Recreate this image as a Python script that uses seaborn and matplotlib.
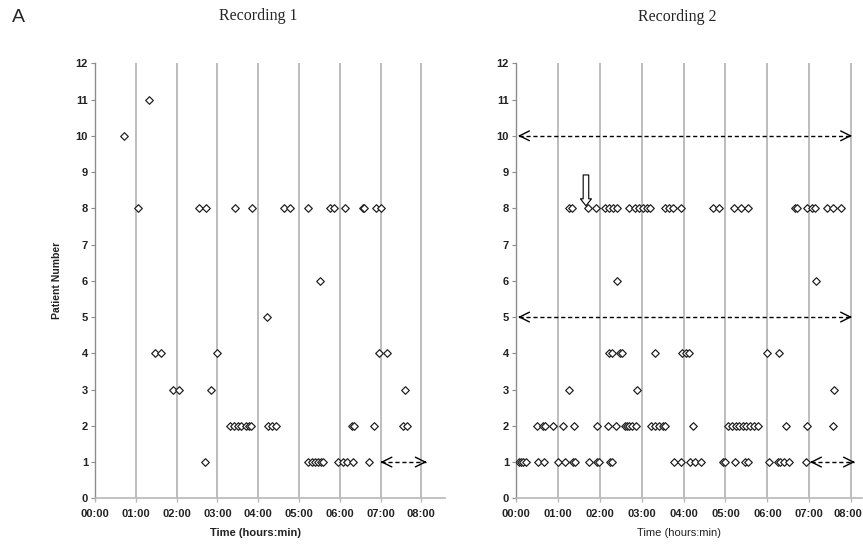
import numpy as np
import pandas as pd
import matplotlib
matplotlib.use("Agg")
import matplotlib.pyplot as plt
import matplotlib.transforms as mtransforms
import seaborn as sns

# ---------------- data (time in decimal hours, per patient) ----------------
rec1_p11 = [1.32]
rec1_p10 = [0.71]
rec1_p8 = [1.05, 2.54, 2.71, 3.43, 3.84, 4.64, 4.78, 5.21, 5.76, 5.86, 6.13,
           6.56, 6.60, 6.90, 7.00]
rec1_p6 = [5.52]
rec1_p5 = [4.22]
rec1_p4 = [1.47, 1.63, 3.00, 6.97, 7.17]
rec1_p3 = [1.92, 2.07, 2.84, 7.60]
rec1_p2 = [3.31, 3.41, 3.50, 3.59, 3.69, 3.78, 3.82, 4.24, 4.33, 4.44,
           6.29, 6.36, 6.85, 7.56, 7.66]
rec1_p1 = [2.69, 5.23, 5.31, 5.39, 5.47, 5.53, 5.60, 5.95, 6.07, 6.18, 6.33, 6.72]

rec2_p8 = [1.27, 1.33, 1.73, 1.91, 2.12, 2.23, 2.32, 2.40, 2.70, 2.84, 2.94,
           3.04, 3.12, 3.20, 3.56, 3.66, 3.75, 3.95, 4.71, 4.85, 5.21, 5.37,
           5.54, 6.66, 6.71, 6.94, 7.06, 7.14, 7.42, 7.57, 7.76]
rec2_p6 = [2.40, 7.16]
rec2_p4 = [2.22, 2.28, 2.48, 2.54, 3.33, 3.97, 4.05, 4.13, 6.00, 6.28]
rec2_p3 = [1.26, 2.90, 7.60]
rec2_p2 = [0.49, 0.65, 0.69, 0.88, 1.13, 1.38, 1.93, 2.19, 2.38, 2.60, 2.66,
           2.70, 2.78, 2.86, 3.22, 3.33, 3.41, 3.52, 3.56, 4.23, 5.07, 5.16,
           5.25, 5.33, 5.42, 5.50, 5.59, 5.68, 5.77, 6.44, 6.95, 7.57]
rec2_p1 = [0.06, 0.12, 0.17, 0.23, 0.53, 0.67, 1.01, 1.17, 1.36, 1.40, 1.74,
           1.93, 1.99, 2.24, 2.30, 3.77, 3.93, 4.15, 4.27, 4.42, 4.93, 4.99,
           5.23, 5.47, 5.54, 6.05, 6.25, 6.30, 6.40, 6.52, 6.92]

# continuous recordings shown as dashed double arrows: (patient, start, end)
rec1_arrows = [(1, 7.00, 8.13)]
rec2_arrows = [(10, 0.05, 8.02), (5, 0.05, 8.02), (1, 7.02, 8.09)]
rec2_marker_arrow = (1.67, 8.07)   # hollow arrow pointing at an event

hour_ticks = list(range(0, 9))
hour_labels = ["00:00", "01:00", "02:00", "03:00", "04:00", "05:00",
               "06:00", "07:00", "08:00"]
patient_ticks = list(range(0, 13))
titles = ["Recording 1", "Recording 2"]


def to_frame(d):
    rows = []
    for p, ts in d.items():
        for t in ts:
            rows.append({"time": t, "patient": p})
    return pd.DataFrame(rows)


df1 = to_frame({11: rec1_p11, 10: rec1_p10, 8: rec1_p8, 6: rec1_p6, 5: rec1_p5,
                4: rec1_p4, 3: rec1_p3, 2: rec1_p2, 1: rec1_p1})
df2 = to_frame({8: rec2_p8, 6: rec2_p6, 4: rec2_p4, 3: rec2_p3,
                2: rec2_p2, 1: rec2_p1})

# ---------------- figure ----------------
sns.set_style("white")
plt.rcParams["font.family"] = ["Liberation Sans", "DejaVu Sans"]

W, H = 863, 547
fig = plt.figure(figsize=(W / 100, H / 100), dpi=100)

ax1 = fig.add_axes([95 / W, 1 - 498.3 / H, 350 / W, (498.3 - 63.3) / H])
ax2 = fig.add_axes([516 / W, 1 - 498.3 / H, 346 / W, (498.3 - 63.3) / H])

grid_c = "#b8b8b8"
spine_c = "#8c8c8c"


def draw_arrow(ax, y, x0, x1):
    ax.plot([x0 + 0.02, x1 - 0.02], [y, y], ls=(0, (3, 2)), color="black",
            lw=1.0, zorder=4)
    for a, b in ((x1, x1 - 0.05), (x0, x0 + 0.05)):
        ax.annotate("", xy=(a, y), xytext=(b, y),
                    arrowprops=dict(arrowstyle="->,head_length=0.7,head_width=0.35",
                                    color="black", lw=1.0, mutation_scale=10,
                                    shrinkA=0, shrinkB=0),
                    zorder=4)


for ax, df, xmax, arrows in ((ax1, df1, 8.58, rec1_arrows),
                             (ax2, df2, 8.26, rec2_arrows)):
    sns.scatterplot(data=df, x="time", y="patient", ax=ax, marker="D", s=15,
                    facecolor="white", edgecolor="#1a1a1a", linewidth=0.85,
                    zorder=5, legend=False)
    ax.set_xlim(0, xmax)
    ax.set_ylim(0, 12)
    ax.set_xticks(hour_ticks)
    ax.set_xticklabels(hour_labels)
    ax.set_yticks(patient_ticks)
    ax.set_yticklabels([str(v) for v in patient_ticks])
    ax.grid(axis="x", color=grid_c, lw=1.3)
    ax.grid(axis="y", visible=False)
    ax.set_axisbelow(True)
    for s in ("top", "right"):
        ax.spines[s].set_visible(False)
    ax.spines["left"].set_color(spine_c)
    ax.spines["bottom"].set_color(grid_c)
    ax.spines["left"].set_linewidth(1.0)
    ax.spines["bottom"].set_linewidth(1.2)
    ax.tick_params(axis="y", left=True, length=3, width=0.8, color=spine_c,
                   pad=2, labelsize=8)
    ax.tick_params(axis="x", bottom=True, length=3, width=1.0, color=grid_c,
                   pad=5, labelsize=8)
    for lab in ax.get_xticklabels() + ax.get_yticklabels():
        lab.set_fontweight("bold")
        lab.set_color("#222222")
    for (p, a, b) in arrows:
        draw_arrow(ax, p, a, b)

# keep the last tick label of the right panel inside the figure
last = ax2.get_xticklabels()[-1]
last.set_transform(last.get_transform() +
                   mtransforms.ScaledTranslation(-3 / 100, 0, fig.dpi_scale_trans))

ax1.set_xlabel("Time (hours:min)", fontsize=8, fontweight="bold", color="#222222")
ax1.xaxis.set_label_coords(0.46, -0.068)
ax1.set_ylabel("Patient Number", fontsize=7.5, fontweight="bold", color="#222222")
ax1.yaxis.set_label_coords(-0.095, 0.5)

ax2.set_xlabel("Time (hours:min)", fontsize=8, color="#222222")
ax2.xaxis.set_label_coords(0.471, -0.068)
ax2.set_ylabel("")

# hollow marker arrow on recording 2
mx, my = rec2_marker_arrow
ax2.annotate("", xy=(mx, my), xytext=(mx, my + 0.85),
             arrowprops=dict(arrowstyle="simple,head_length=0.5,head_width=0.8,tail_width=0.4",
                             fc="white", ec="black", lw=0.8, mutation_scale=10,
                             shrinkA=0, shrinkB=0), zorder=6)

fig.text(258 / W, 1 - 16 / H, titles[0], ha="center", va="center",
         family="Liberation Serif", fontsize=11.5)
fig.text(677 / W, 1 - 17 / H, titles[1], ha="center", va="center",
         family="Liberation Serif", fontsize=11.5)
fig.text(12 / W, 1 - 18 / H, "A", ha="left", va="center", fontsize=14)

fig.savefig("out.png", dpi=100)
